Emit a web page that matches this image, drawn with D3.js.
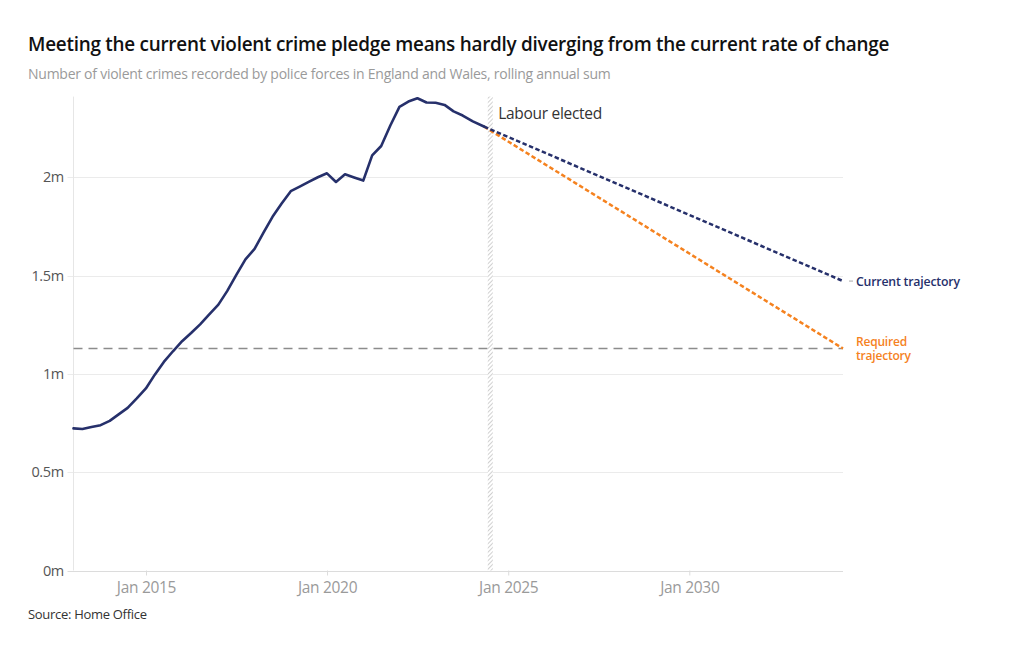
<!DOCTYPE html>
<html>
<head>
<meta charset="utf-8">
<script src="https://cdn.jsdelivr.net/npm/d3@7"></script>
<style>
  html, body { margin: 0; padding: 0; background: #fff; }
  svg { display: block; font-family: "Open Sans", "Noto Sans", sans-serif; }
</style>
</head>
<body>
<svg id="chart" width="1020" height="650"></svg>
<script>
// ---- data ----
const title = "Meeting the current violent crime pledge means hardly diverging from the current rate of change";
const subtitle = "Number of violent crimes recorded by police forces in England and Wales, rolling annual sum";
const source = "Source: Home Office";

const dates = [
  "2012-12-31","2013-03-31","2013-06-30","2013-09-30","2013-12-31",
  "2014-03-31","2014-06-30","2014-09-30","2014-12-31",
  "2015-03-31","2015-06-30","2015-09-30","2015-12-31",
  "2016-03-31","2016-06-30","2016-09-30","2016-12-31",
  "2017-03-31","2017-06-30","2017-09-30","2017-12-31",
  "2018-03-31","2018-06-30","2018-09-30","2018-12-31",
  "2019-03-31","2019-06-30","2019-09-30","2019-12-31",
  "2020-03-31","2020-06-30","2020-09-30","2020-12-31",
  "2021-03-31","2021-06-30","2021-09-30","2021-12-31",
  "2022-03-31","2022-06-30","2022-09-30","2022-12-31",
  "2023-03-31","2023-06-30","2023-09-30","2024-01-10",
  "2024-05-01"
];
const crimes = [
  723000, 720000, 730000, 739000, 761000,
  794000, 827000, 875000, 926000,
  996000, 1061000, 1115000, 1166000,
  1208000, 1252000, 1303000, 1352000,
  1422000, 1503000, 1582000, 1636000,
  1719000, 1799000, 1866000, 1929000,
  1952000, 1976000, 2000000, 2020000,
  1976000, 2015000, 1999000, 1983000,
  2111000, 2159000, 2263000, 2358000,
  2385000, 2402000, 2380000, 2379000,
  2368000, 2335000, 2314000, 2284000,
  2258000
];
const projectionEnd = "2034-03-31";
const currentTrajectoryEnd = 1472000;
const requiredTrajectoryEnd = 1129000;
const pledgeTarget = 1129000;
const electionDate = "2024-07-04";
const xDomainStart = "2012-12-31";
const yMax = 2400000;
const yTicks = [0, 500000, 1000000, 1500000, 2000000];
const yTickLabels = ["0m", "0.5m", "1m", "1.5m", "2m"];
const xTicks = ["2015-01-01", "2020-01-01", "2025-01-01", "2030-01-01"];
const xTickLabels = ["Jan 2015", "Jan 2020", "Jan 2025", "Jan 2030"];

// ---- layout ----
const svg = d3.select("#chart");
const parse = d3.timeParse("%Y-%m-%d");
const L = 73.5, R = 843, T = 98.6, B = 570.5;
const navy = "#26306b", orange = "#f5821f";

const x = d3.scaleTime().domain([parse(xDomainStart), parse(projectionEnd)]).range([L, R]);
const y = d3.scaleLinear().domain([0, yMax]).range([B, T]);

const series = dates.map((d, i) => ({ date: parse(d), value: crimes[i] }));
const last = series[series.length - 1];

// title & subtitle
svg.append("text").attr("x", 28).attr("y", 51)
  .attr("font-size", 18.9).attr("font-weight", 600).attr("fill", "#111")
  .attr("letter-spacing", -0.25)
  .text(title);
svg.append("text").attr("x", 28).attr("y", 79)
  .attr("font-size", 14).attr("fill", "#9a9a9a")
  .attr("letter-spacing", -0.25)
  .text(subtitle);

// grid lines
const gy = svg.append("g");
gy.selectAll("line.grid").data(yTicks).join("line")
  .attr("x1", L - 6).attr("x2", R)
  .attr("y1", d => Math.round(y(d)) + 0.5).attr("y2", d => Math.round(y(d)) + 0.5)
  .attr("stroke", d => d === 0 ? "#dcdcdc" : "#ebebeb").attr("stroke-width", 1);
gy.selectAll("text").data(yTicks).join("text")
  .attr("x", 64).attr("y", d => y(d) + 5)
  .attr("text-anchor", "end").attr("font-size", 14.5).attr("fill", "#555")
  .attr("letter-spacing", -0.3)
  .text((d, i) => yTickLabels[i]);

// y axis line
svg.append("line").attr("x1", L).attr("x2", L).attr("y1", T - 2).attr("y2", B)
  .attr("stroke", "#e6e6e6");

// x axis ticks
const xAxis = d3.axisBottom(x)
  .tickValues(xTicks.map(parse))
  .tickSize(5)
  .tickFormat((d, i) => xTickLabels[i]);
const gx = svg.append("g").attr("transform", `translate(0,${B})`).call(xAxis);
gx.select(".domain").remove();
gx.selectAll(".tick line").attr("stroke", "#dcdcdc");
gx.selectAll(".tick text").attr("font-size", 15.5).attr("fill", "#9a9a9a")
  .attr("font-family", "\"Open Sans\", sans-serif").attr("dy", "0.95em")
  .attr("letter-spacing", -0.3);

// pledge target dashed line
svg.append("line")
  .attr("x1", L).attr("x2", R)
  .attr("y1", y(pledgeTarget)).attr("y2", y(pledgeTarget))
  .attr("stroke", "#8c8c8c").attr("stroke-width", 1.5)
  .attr("stroke-dasharray", "9,6");

// hatched election marker
const defs = svg.append("defs");
const pat = defs.append("pattern").attr("id", "hatch")
  .attr("patternUnits", "userSpaceOnUse").attr("width", 3).attr("height", 3)
  .attr("patternTransform", "rotate(45)");
pat.append("rect").attr("width", 3).attr("height", 3).attr("fill", "#fff");
pat.append("line").attr("x1", 0).attr("y1", 0).attr("x2", 0).attr("y2", 3)
  .attr("stroke", "#c4c4c4").attr("stroke-width", 1.6);
const ex = x(parse(electionDate));
svg.append("rect").attr("x", ex - 2.5).attr("y", T - 2).attr("width", 5).attr("height", B - T + 2)
  .attr("fill", "url(#hatch)");
svg.append("text").attr("x", ex + 8).attr("y", 119)
  .attr("font-size", 15.5).attr("fill", "#333").attr("letter-spacing", -0.3)
  .text("Labour elected");

// projections
const endDate = parse(projectionEnd);
const proj = [
  { end: requiredTrajectoryEnd, color: orange },
  { end: currentTrajectoryEnd, color: navy }
];
const line = d3.line().x(d => x(d.date)).y(d => y(d.value));
proj.forEach(p => {
  svg.append("path")
    .datum([last, { date: endDate, value: p.end }])
    .attr("d", line)
    .attr("fill", "none").attr("stroke", p.color).attr("stroke-width", 2.5)
    .attr("stroke-dasharray", "4.5,2.5");
});

// main line
svg.append("path").datum(series).attr("d", line)
  .attr("fill", "none").attr("stroke", navy).attr("stroke-width", 2.6)
  .attr("stroke-linejoin", "round").attr("stroke-linecap", "round");

// end labels
const lab = svg.append("g").attr("font-weight", 600).attr("letter-spacing", -0.2);
svg.append("line").attr("x1", R + 6).attr("x2", R + 10)
  .attr("y1", y(currentTrajectoryEnd)).attr("y2", y(currentTrajectoryEnd))
  .attr("stroke", "#aaa").attr("stroke-width", 1);
lab.append("text").attr("x", R + 13).attr("y", y(currentTrajectoryEnd) + 4.5)
  .attr("font-size", 12.3).attr("fill", navy).text("Current trajectory");
lab.append("text").attr("x", R + 13).attr("y", y(requiredTrajectoryEnd) - 3)
  .attr("font-size", 12).attr("fill", orange).text("Required");
lab.append("text").attr("x", R + 13).attr("y", y(requiredTrajectoryEnd) + 11)
  .attr("font-size", 12).attr("fill", orange).text("trajectory");

// source
svg.append("text").attr("x", 28).attr("y", 619)
  .attr("font-size", 13).attr("fill", "#333").attr("letter-spacing", -0.3)
  .text(source);
</script>
</body>
</html>
